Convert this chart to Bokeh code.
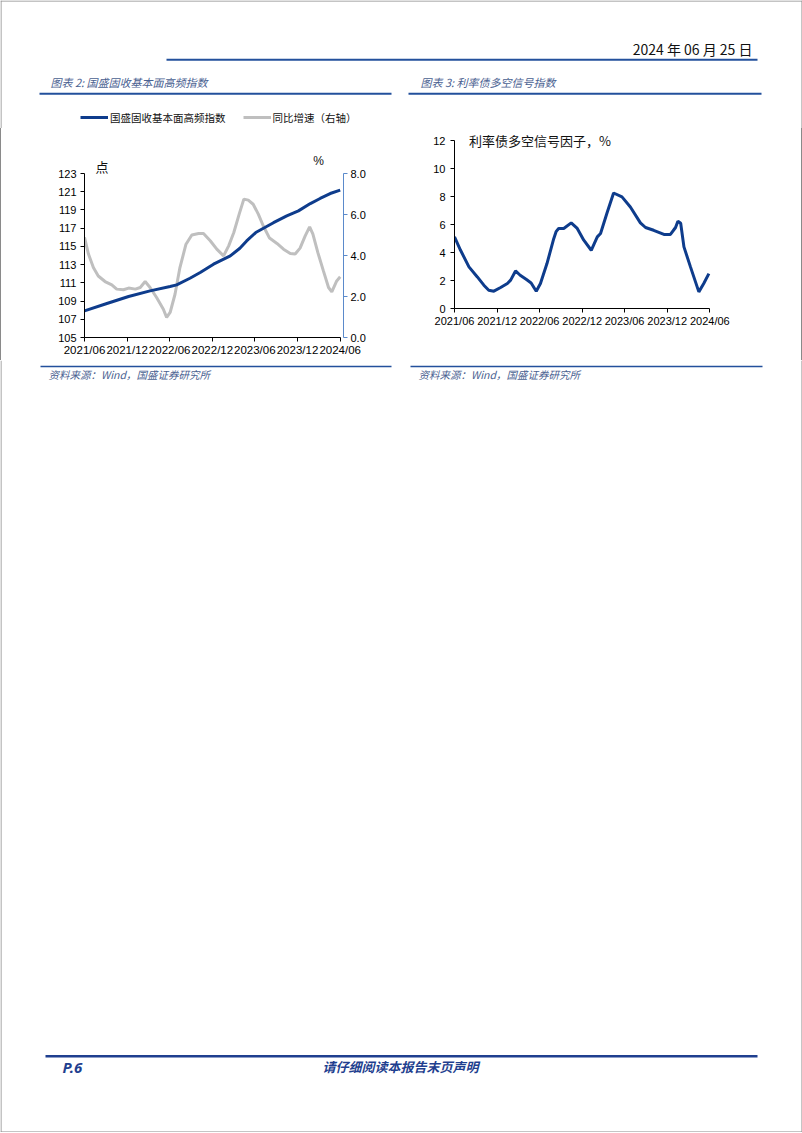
import pandas as pd
from bokeh.plotting import figure
from bokeh.models import (Range1d, LinearAxis, FixedTicker, DatetimeTickFormatter, Spacer,
                          NumeralTickFormatter, Legend, LegendItem, Label, ColumnDataSource)
from bokeh.layouts import column, row
from bokeh.embed import file_html
from bokeh.resources import INLINE
from bokeh.core.properties import value

# ---------------- data ----------------
index_dates = ["2021-06-01", "2021-09-05", "2021-12-07", "2022-03-09", "2022-06-03", "2022-07-01",
               "2022-08-27", "2022-10-10", "2022-12-06", "2023-02-16", "2023-03-29", "2023-04-27",
               "2023-06-05", "2023-07-14", "2023-08-20", "2023-10-16", "2023-12-05", "2024-01-25",
               "2024-03-07", "2024-04-19", "2024-06-01"]
index_vals = [107.93, 108.73, 109.5, 110.12, 110.6, 110.78, 111.5, 112.13, 113.05, 113.96, 114.8,
              115.6, 116.52, 117.07, 117.6, 118.35, 118.9, 119.7, 120.26, 120.8, 121.17]

yoy_dates = ["2021-06-01", "2021-06-18", "2021-07-09", "2021-07-30", "2021-08-28", "2021-09-26",
             "2021-10-17", "2021-11-15", "2021-12-07", "2022-01-05", "2022-01-26", "2022-02-16",
             "2022-03-09", "2022-04-06", "2022-05-05", "2022-05-19", "2022-06-03", "2022-06-24",
             "2022-07-15", "2022-08-10", "2022-09-04", "2022-10-03", "2022-10-24", "2022-11-22",
             "2022-12-20", "2023-01-18", "2023-02-09", "2023-03-03", "2023-03-26", "2023-04-15",
             "2023-05-04", "2023-05-25", "2023-06-16", "2023-07-07", "2023-08-03", "2023-09-04",
             "2023-10-02", "2023-10-31", "2023-11-21", "2023-12-12", "2024-01-03", "2024-01-22",
             "2024-02-05", "2024-02-26", "2024-03-21", "2024-04-12", "2024-04-26", "2024-05-17",
             "2024-06-01"]
yoy_vals = [4.88, 4.07, 3.41, 3.0, 2.73, 2.57, 2.36, 2.33, 2.41, 2.36, 2.44, 2.73, 2.44, 1.95, 1.38,
            0.98, 1.22, 2.11, 3.41, 4.55, 5.0, 5.07, 5.07, 4.72, 4.31, 3.98, 4.47, 5.12, 6.02, 6.75,
            6.7, 6.5, 6.02, 5.45, 4.85, 4.59, 4.31, 4.1, 4.07, 4.36, 4.96, 5.4, 5.04, 4.15, 3.25,
            2.44, 2.23, 2.76, 2.96]

signal_dates = ["2021-06-01", "2021-06-27", "2021-08-02", "2021-09-07", "2021-10-05", "2021-10-26",
                "2021-11-17", "2021-12-16", "2022-01-14", "2022-01-28", "2022-02-18", "2022-03-10",
                "2022-04-06", "2022-04-26", "2022-05-18", "2022-06-05", "2022-07-03", "2022-07-19",
                "2022-08-01", "2022-08-11", "2022-08-22", "2022-09-13", "2022-10-15", "2022-11-10",
                "2022-12-08", "2023-01-09", "2023-02-04", "2023-02-18", "2023-03-17", "2023-04-15",
                "2023-05-21", "2023-06-26", "2023-08-08", "2023-08-30", "2023-10-04", "2023-11-17",
                "2023-12-15", "2024-01-06", "2024-01-16", "2024-01-28", "2024-02-11", "2024-03-10",
                "2024-04-15", "2024-05-06", "2024-05-28"]
signal_vals = [5.13, 4.17, 2.98, 2.26, 1.67, 1.31, 1.24, 1.5, 1.79, 2.03, 2.69, 2.38, 2.07, 1.83,
               1.24, 1.79, 3.22, 4.2, 5.0, 5.5, 5.73, 5.73, 6.13, 5.73, 4.89, 4.17, 5.13, 5.37, 6.8,
               8.27, 7.99, 7.27, 6.13, 5.8, 5.6, 5.3, 5.3, 5.8, 6.25, 6.1, 4.41, 2.98, 1.19, 1.79, 2.5]

x_tick_dates = ["2021-06-01", "2021-12-01", "2022-06-01", "2022-12-01", "2023-06-01",
                "2023-12-01", "2024-06-01"]
left_ticks = [105, 107, 109, 111, 113, 115, 117, 119, 121, 123]
right_ticks = [0, 2, 4, 6, 8]
signal_ticks = [0, 2, 4, 6, 8, 10, 12]
series_names = ["国盛固收基本面高频指数", "同比增速（右轴）"]

# ---------------- style ----------------
NAVY = "#0E3C8C"
GRAY = "#BFBFBF"
RULE = "#23509C"
CAP = "#4A6191"
EDGE = "#8A8A8A"
CJK = "Noto Sans CJK SC"
LAT = "Liberation Sans"
TOP = 128  # page y where the chart row starts
NAN = float("nan")


def ms(s):
    return pd.Timestamp(s).value / 1e6


T0 = ms(x_tick_dates[0])
T1 = ms(x_tick_dates[-1])
xticks_ms = [ms(d) for d in x_tick_dates]
date_fmt = DatetimeTickFormatter(days="%Y/%m", months="%Y/%m", years="%Y/%m")


def style_axis(ax, color="#000000", size="11px", standoff=3):
    ax.axis_line_color = color
    ax.axis_line_width = 1
    ax.major_tick_line_color = color
    ax.major_tick_out = 4
    ax.major_tick_in = 0
    ax.minor_tick_line_color = None
    ax.major_label_text_font = LAT
    ax.major_label_text_font_size = size
    ax.major_label_text_color = "#000000"
    ax.major_label_standoff = standoff


def canvas(w, h, top, bottom):
    p = figure(width=w, height=h, x_range=Range1d(0, w), y_range=Range1d(bottom, top),
               min_border=0, toolbar_location=None, tools="", output_backend="svg",
               x_axis_location=None, y_axis_location=None, outline_line_color=None)
    p.grid.visible = False
    return p


# ---------------- header (with legend of the left chart) ----------------
head = canvas(802, TOP, 0, TOP)
head.segment(x0=[0.5, 0, 801.5], y0=[0, 0.5, 0], x1=[0.5, 802, 801.5], y1=[TOP, 0.5, TOP],
             line_color=EDGE, line_width=1)
head.text(x=[752], y=[48.5], text=["2024 年 06 月 25 日"], text_align="right",
          text_baseline="middle", text_font=value(CJK), text_font_size="14px", text_color="#111111")
head.segment(x0=[166, 39, 408], y0=[59.3, 93.3, 93.3], x1=[757, 391, 761], y1=[59.3, 93.3, 93.3],
             line_color=RULE, line_width=2)
head.text(x=[50, 420], y=[81, 81], text=["图表 2:  国盛固收基本面高频指数", "图表 3:  利率债多空信号指数"],
          text_align="left", text_baseline="middle", text_font=value(CJK), text_font_size="11px",
          text_font_style="italic", text_color=CAP)
# legend keys for the left chart's two series (styled like the series lines)
key_idx = head.line(x=[NAN], y=[NAN], line_color=NAVY, line_width=3)
key_yoy = head.line(x=[NAN], y=[NAN], line_color=GRAY, line_width=3)
legend = Legend(items=[LegendItem(label=series_names[0], renderers=[key_idx]),
                       LegendItem(label=series_names[1], renderers=[key_yoy])],
                orientation="horizontal", location=(80, TOP - 124.5), glyph_width=28,
                glyph_height=14, label_height=14, label_standoff=2, spacing=17, padding=0,
                margin=0, border_line_color=None, background_fill_alpha=0,
                label_text_font=CJK, label_text_font_size="10.5px", label_text_color="#111111")
head.add_layout(legend)

# ---------------- left chart ----------------
lpx = (T1 - T0) / 255.7
lh = 337 - TOP
left = figure(width=399, height=360 - TOP, x_axis_type="datetime",
              x_range=Range1d(T0, T0 + 259 * lpx), y_range=Range1d(105, 105 + lh / (164 / 18)),
              min_border_left=83, min_border_right=57, min_border_top=0, min_border_bottom=23,
              toolbar_location=None, tools="", output_backend="svg", outline_line_color=None)
left.grid.visible = False
left.extra_y_ranges = {"yoy": Range1d(0, lh / 20.5)}

lx = left.xaxis[0]
lx.ticker = FixedTicker(ticks=xticks_ms)
lx.formatter = date_fmt
lx.bounds = (T0, T1)
style_axis(lx, size="11.5px", standoff=2)

ly = left.yaxis[0]
ly.ticker = FixedTicker(ticks=left_ticks)
ly.bounds = (105, 123)
style_axis(ly, standoff=4)

ry = LinearAxis(y_range_name="yoy", ticker=FixedTicker(ticks=right_ticks),
                formatter=NumeralTickFormatter(format="0.0"), bounds=(0, 8))
style_axis(ry, color="#5B8ACB", standoff=3)
left.add_layout(ry, "right")

src_yoy = ColumnDataSource(dict(x=pd.to_datetime(yoy_dates), y=yoy_vals))
src_idx = ColumnDataSource(dict(x=pd.to_datetime(index_dates), y=index_vals))
left.line("x", "y", source=src_yoy, y_range_name="yoy", line_color=GRAY, line_width=3)
left.line("x", "y", source=src_idx, line_color=NAVY, line_width=3)

left.add_layout(Label(x=T0 + 17.5 * lpx, y=105 + (337 - 166) / (164 / 18), text="点",
                      text_align="center", text_baseline="middle", text_font=CJK,
                      text_font_size="13px", text_color="#111111"))
left.add_layout(Label(x=T0 + 234 * lpx, y=105 + (337 - 160) / (164 / 18), text="%",
                      text_align="center", text_baseline="middle", text_font=LAT,
                      text_font_size="12px", text_color="#111111"))

# ---------------- right chart ----------------
rpx = (T1 - T0) / 255.3
rh = 308 - TOP
rch = figure(width=401, height=rh + 23, x_axis_type="datetime",
             x_range=Range1d(T0, T0 + 347 * rpx), y_range=Range1d(0, rh / (167.6 / 12)),
             min_border_left=54, min_border_right=0, min_border_top=0, min_border_bottom=23,
             toolbar_location=None, tools="", output_backend="svg", outline_line_color=None)
rch.grid.visible = False
rx = rch.xaxis[0]
rx.ticker = FixedTicker(ticks=xticks_ms)
rx.formatter = date_fmt
rx.bounds = (T0, T1)
style_axis(rx, size="11px", standoff=2)
ryy = rch.yaxis[0]
ryy.ticker = FixedTicker(ticks=signal_ticks)
ryy.bounds = (0, 12)
style_axis(ryy, size="11px", standoff=5)

src_sig = ColumnDataSource(dict(x=pd.to_datetime(signal_dates), y=signal_vals))
rch.line("x", "y", source=src_sig, line_color=NAVY, line_width=3)
rch.add_layout(Label(x=T0 + 14.5 * rpx, y=12, text="利率债多空信号因子，%", text_align="left",
                     text_baseline="middle", text_font=CJK, text_font_size="13px",
                     text_color="#111111"))

edge_l = Spacer(width=1, height=360 - TOP, styles={"background-color": EDGE})
edge_r = Spacer(width=1, height=360 - TOP, styles={"background-color": EDGE})

# ---------------- sources & footer ----------------
foot = canvas(802, 772, 360, 1132)
foot.segment(x0=[0.5, 801.5, 0], y0=[360, 360, 1131.5], x1=[0.5, 801.5, 802], y1=[1132, 1132, 1131.5],
             line_color=EDGE, line_width=1)
foot.segment(x0=[40, 410], y0=[366, 366], x1=[391, 762], y1=[366, 366],
             line_color=RULE, line_width=1.6)
foot.text(x=[48, 418], y=[373.5, 373.5], text=["资料来源：Wind，国盛证券研究所"] * 2,
          text_align="left", text_baseline="middle", text_font=value(CJK), text_font_size="10.5px",
          text_font_style="italic", text_color=CAP)
foot.segment(x0=[45], y0=[1055.7], x1=[757], y1=[1055.7], line_color="#1F3F8F", line_width=2.5)
foot.text(x=[62], y=[1066], text=["P.6"], text_align="left", text_baseline="middle",
          text_font=value("Noto Sans"), text_font_size="15px", text_font_style="bold italic",
          text_color="#1F3F8F")
foot.text(x=[400], y=[1066], text=["请仔细阅读本报告末页声明"], text_align="center",
          text_baseline="middle", text_font=value(CJK), text_font_size="13px",
          text_font_style="bold italic", text_color="#1F3F8F")

page = column(head, row(edge_l, left, rch, edge_r), foot)
open("out.html", "w").write(file_html(page, INLINE))
